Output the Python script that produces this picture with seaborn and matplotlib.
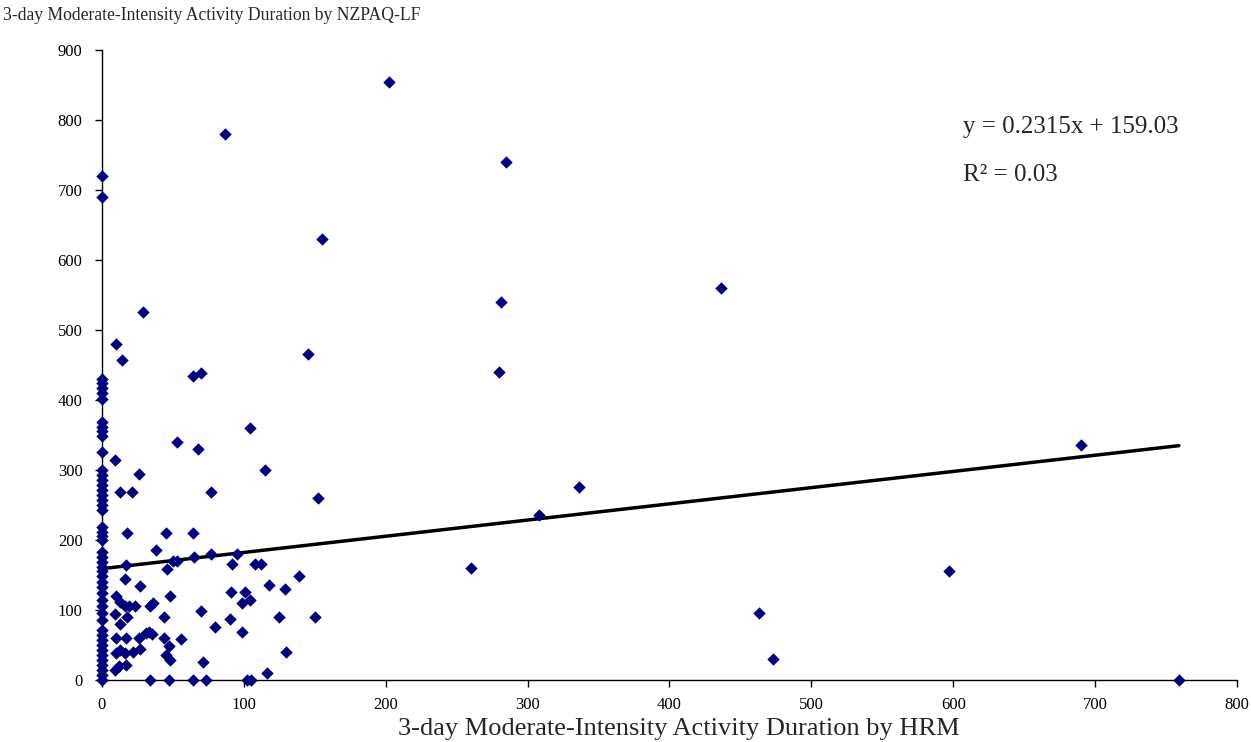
import matplotlib
matplotlib.use("Agg")
import matplotlib.pyplot as plt
import seaborn as sns
import numpy as np
import pandas as pd

# Activity minutes over three days: heart-rate monitor (x) vs questionnaire (y)
hrm_zero_nzpaq = [720, 690, 430, 424, 417, 410, 402, 369, 362, 355, 349, 325,
                  300, 293, 286, 279, 271, 264, 257, 250, 243, 219, 212, 205,
                  200, 183, 176, 169, 162, 155, 148, 140, 133, 124, 114, 105,
                  95, 86, 71, 64, 57, 50, 43, 36, 29, 21, 14, 7, 0]

hrm_pos = [202, 87, 285, 155, 436, 281, 29, 10, 145, 14, 280, 70, 64, 104, 53,
           690, 68, 9, 115, 26, 336, 13, 21, 77, 152, 308, 18, 45, 64, 38, 77,
           95, 65, 50, 53, 92, 108, 112, 17, 260, 46, 597, 139, 16, 27, 118,
           129, 91, 101, 10, 48, 104, 13, 36, 99, 16, 19, 23, 34, 70, 463, 9,
           18, 44, 125, 150, 90, 13, 80, 99, 31, 33, 35, 10, 17, 26, 44, 56,
           47, 130, 10, 13, 16, 22, 27, 45, 48, 473, 71, 9, 12, 17, 116, 34,
           47, 64, 73, 102, 105, 759]
nzpaq_pos = [855, 780, 740, 630, 560, 540, 525, 480, 465, 457, 440, 438, 434,
             360, 340, 335, 330, 314, 300, 294, 275, 269, 269, 269, 260, 235,
             210, 210, 210, 185, 180, 180, 175, 170, 170, 165, 165, 165, 164,
             160, 158, 155, 149, 144, 134, 135, 130, 125, 125, 120, 120, 114,
             112, 110, 110, 105, 105, 105, 105, 99, 95, 94, 90, 90, 90, 90, 87,
             80, 75, 69, 67, 68, 66, 60, 60, 60, 60, 59, 49, 40, 39, 43, 39, 40,
             44, 36, 29, 30, 25, 14, 20, 21, 10, 0, 0, 0, 0, 0, 0, 0]

# Fitted trend reported on the chart
slope = 0.2315
intercept = 159.03
r_squared = 0.03

hrm = [0] * len(hrm_zero_nzpaq) + hrm_pos
nzpaq = hrm_zero_nzpaq + nzpaq_pos
df = pd.DataFrame({"hrm": hrm, "nzpaq": nzpaq})

sns.set_style("ticks")
plt.rcParams["font.family"] = ["Liberation Serif", "DejaVu Serif"]

fig = plt.figure(figsize=(12.51, 7.42), dpi=100)
ax = fig.add_axes([0.0815, 0.0836, 0.9073, 0.849])

fit_x = np.array([0, max(hrm)])
fit = pd.DataFrame({"hrm": fit_x, "nzpaq": intercept + slope * fit_x})
sns.lineplot(data=fit, x="hrm", y="nzpaq", color="black", linewidth=2.5, ax=ax)

sns.scatterplot(data=df, x="hrm", y="nzpaq", marker="D", s=40,
                color="#000080", linewidth=0, ax=ax, zorder=3, clip_on=False)

ax.set_xlim(0, 800)
ax.set_ylim(0, 900)
ax.set_xticks(range(0, 801, 100))
ax.set_yticks(range(0, 901, 100))
ax.tick_params(axis="both", direction="out", length=5, width=1,
               color="black", labelsize=12, labelcolor="black")
ax.tick_params(axis="y", pad=9)
ax.tick_params(axis="x", pad=7)
for side in ("left", "bottom"):
    ax.spines[side].set_color("black")
    ax.spines[side].set_linewidth(1)
sns.despine(ax=ax)

ax.set_ylabel("")
ax.set_xlabel("3-day Moderate-Intensity Activity Duration by HRM", fontsize=19)
ax.xaxis.set_label_coords(0.508, -0.06)

fig.text(0.0024, 1 - 15 / 742, "3-day Moderate-Intensity Activity Duration by NZPAQ-LF",
         fontsize=12.7, ha="left", va="center")

ax.text(0.7586, 0.878, f"y = {slope}x + {intercept}", transform=ax.transAxes,
        fontsize=18, ha="left", va="center")
ax.text(0.7586, 0.8016, f"R² = {r_squared}", transform=ax.transAxes,
        fontsize=18, ha="left", va="center")

fig.savefig("out.png", dpi=100)
